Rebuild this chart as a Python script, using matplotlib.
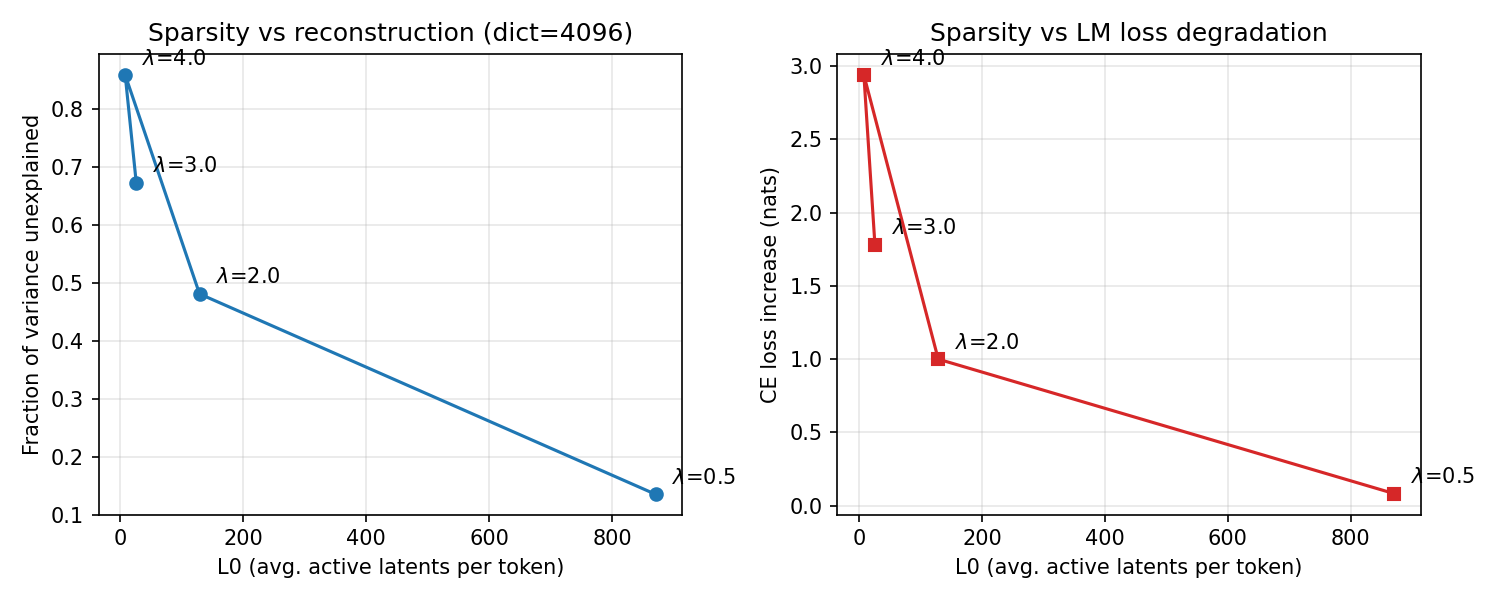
import matplotlib
matplotlib.use("Agg")
import matplotlib.pyplot as plt

# sweep results, in the order they were run
lambdas = [0.5, 2.0, 4.0, 3.0]
l0 = [871, 129, 8, 26]
fvu = [0.135, 0.481, 0.859, 0.673]
ce_increase = [0.082, 1.0, 2.94, 1.78]

fig, (ax1, ax2) = plt.subplots(1, 2, figsize=(10, 4), dpi=150)

ax1.plot(l0, fvu, "o-", color="tab:blue")
for lam, x, y in zip(lambdas, l0, fvu):
    ax1.annotate(f"$\\lambda$={lam}", (x, y), textcoords="offset points", xytext=(8, 5))
ax1.set_xlabel("L0 (avg. active latents per token)")
ax1.set_ylabel("Fraction of variance unexplained")
ax1.set_title("Sparsity vs reconstruction (dict=4096)")
ax1.set_ylim(bottom=0.1)
ax1.grid(alpha=0.3)

ax2.plot(l0, ce_increase, "s-", color="tab:red")
for lam, x, y in zip(lambdas, l0, ce_increase):
    ax2.annotate(f"$\\lambda$={lam}", (x, y), textcoords="offset points", xytext=(8, 5))
ax2.set_xlabel("L0 (avg. active latents per token)")
ax2.set_ylabel("CE loss increase (nats)")
ax2.set_title("Sparsity vs LM loss degradation")
ax2.grid(alpha=0.3)

plt.tight_layout()
plt.savefig("out.png")
